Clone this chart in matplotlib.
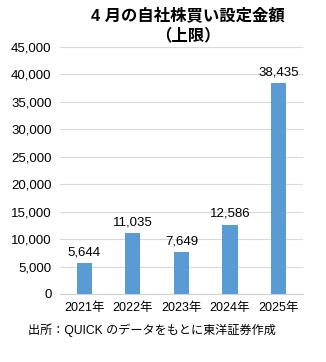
import matplotlib.pyplot as plt

# April buyback program amounts (upper limit)
years = ["2021年", "2022年", "2023年", "2024年", "2025年"]
amounts = [5644, 11035, 7649, 12586, 38435]
yticks = list(range(0, 45001, 5000))

plt.rcParams['font.family'] = ['Liberation Sans', 'Noto Sans CJK JP']

fig = plt.figure(figsize=(3.26, 3.62), dpi=100)
ax = fig.add_axes([0.184, 0.188, 0.745, 0.682])

x = range(len(years))
bars = ax.bar(x, amounts, width=0.31, color="#5B9BD5", zorder=3)
for xi, v in zip(x, amounts):
    ax.text(xi, v + 900, f"{v:,}", ha="center", va="bottom", fontsize=9.5)

ax.set_xlim(-0.5, len(years) - 0.5)
ax.set_ylim(0, 45000)
ax.set_yticks(yticks)
ax.set_yticklabels([f"{t:,}" for t in yticks], fontsize=9.5)
ax.set_xticks(list(x))
ax.set_xticklabels(years, fontsize=9)
ax.grid(axis="y", color="#D9D9D9", linewidth=0.8, zorder=0)
for s in ["top", "right", "left"]:
    ax.spines[s].set_visible(False)
ax.spines["bottom"].set_color("#D0D0D0")
ax.tick_params(length=0, pad=6)

fig.text(0.575, 0.978, "4 月の自社株買い設定金額\n（上限）", ha="center", va="top",
         fontsize=11.8, fontweight="bold", linespacing=1.25)
fig.text(0.085, 0.088, "出所：QUICK のデータをもとに東洋証券作成", ha="left", va="center",
         fontsize=8.7)

fig.savefig("out.png", dpi=100)
